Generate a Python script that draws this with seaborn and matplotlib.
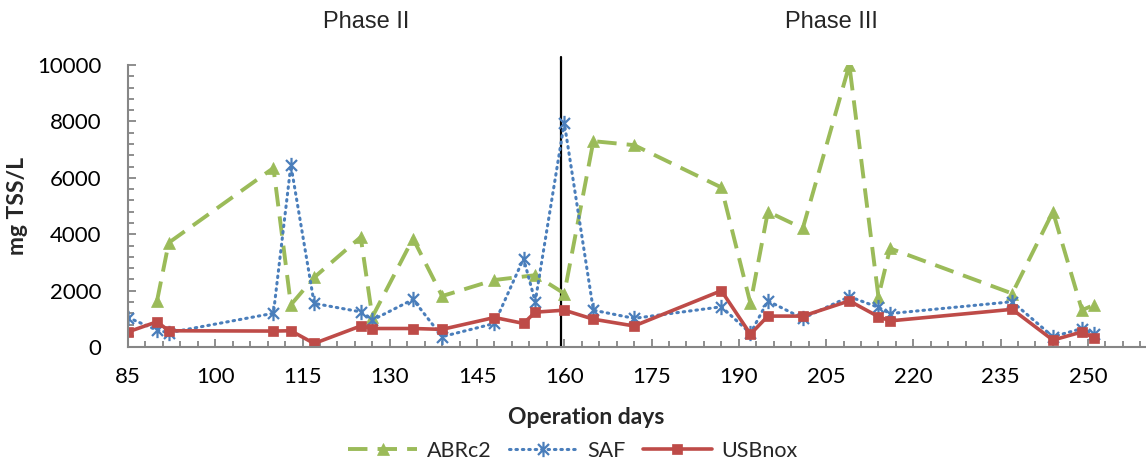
import numpy as np
import pandas as pd
import matplotlib
matplotlib.use("Agg")
import matplotlib.pyplot as plt
from matplotlib.path import Path
from matplotlib.ticker import FixedLocator
import seaborn as sns

# Sampling days and suspended solids per reactor
days = [85, 90, 92, 110, 113, 117, 125, 127, 134, 139, 148, 153, 155, 160,
        165, 172, 187, 192, 195, 201, 209, 214, 216, 237, 244, 249, 251]
abrc2 = [np.nan, 1650, 3700, 6350, 1500, 2470, 3900, 1070, 3850, 1810, 2380,
         np.nan, 2550, 1900, 7300, 7160, 5660, 1550, 4800, 4210, 10000, 1790,
         3500, 1900, 4800, 1310, 1490]
saf = [1050, 600, 510, 1200, 6450, 1550, 1250, 960, 1690, 370, 840, 3140,
       1610, 7950, 1310, 1020, 1430, 490, 1640, 1020, 1790, 1410, 1190, 1610,
       370, 660, 460]
usbnox = [540, 900, 580, 570, 580, 130, 750, 660, 660, 630, 1050, 840, 1240,
          1310, 990, 750, 2000, 460, 1100, 1100, 1640, 1080, 930, 1340, 250,
          540, 330]

phase_change_day = 159.5
phase_labels = ["Phase II", "Phase III"]
x_ticks = list(range(85, 251, 15))
y_ticks = list(range(0, 10001, 2000))

sns.set_theme(style="white")
plt.rcParams["font.family"] = ["Lato", "DejaVu Sans"]

fig = plt.figure(figsize=(11.46, 4.61), dpi=100)
ax = fig.add_axes([0.1117, 0.247, 0.8883, 0.612])

# Star marker: an X crossed by a vertical bar
d = 0.72
star = Path([(0, -1), (0, 1), (-d, -d), (d, d), (-d, d), (d, -d)],
            [Path.MOVETO, Path.LINETO, Path.MOVETO, Path.LINETO,
             Path.MOVETO, Path.LINETO])

styles = {
    "ABRc2": dict(color="#9BBB59", marker="^", markersize=8,
                  linestyle=(0, (5, 2.6)), linewidth=2.8,
                  markeredgecolor="#9BBB59", markeredgewidth=0.5),
    "SAF": dict(color="#4A7EBB", marker=star, markersize=11,
                linestyle=(0, (0.5, 1.6)), linewidth=2.2,
                markeredgecolor="#4A7EBB", markeredgewidth=1.6,
                dash_capstyle="round"),
    "USBnox": dict(color="#BE4B48", marker="s", markersize=7.5,
                   linestyle="-", linewidth=2.6,
                   markeredgecolor="#BE4B48", markeredgewidth=0.5),
}
series = {"ABRc2": abrc2, "SAF": saf, "USBnox": usbnox}

for name, vals in series.items():
    df = pd.DataFrame({"day": days, "tss": vals}).dropna()
    sns.lineplot(data=df, x="day", y="tss", ax=ax, label=name,
                 estimator=None, sort=True, **styles[name])

if ax.get_legend() is not None:
    ax.get_legend().remove()

# Boundary between the two operating phases
ax.axvline(phase_change_day, ymin=0, ymax=1.03, color="black",
           linewidth=1.6, clip_on=False, zorder=1)

ax.set_xlim(85, 260)
ax.set_ylim(0, 10000)
ax.xaxis.set_major_locator(FixedLocator(x_ticks))
ax.xaxis.set_minor_locator(FixedLocator(list(range(85, 261, 3))))
ax.yaxis.set_major_locator(FixedLocator(y_ticks))
ax.yaxis.set_minor_locator(FixedLocator(list(range(0, 10001, 400))))

axis_grey = "#868686"
for side in ["top", "right"]:
    ax.spines[side].set_visible(False)
for side in ["left", "bottom"]:
    ax.spines[side].set_color(axis_grey)
    ax.spines[side].set_linewidth(1.5)

ax.tick_params(axis="both", which="major", direction="in", length=6,
               width=1.3, color=axis_grey, labelsize=16, labelcolor="black")
ax.tick_params(axis="both", which="minor", direction="in", length=4,
               width=1.3, color=axis_grey)
ax.tick_params(axis="x", which="both", bottom=True, pad=14)
ax.tick_params(axis="y", which="both", left=True, pad=19)

ax.set_xlabel("Operation days", fontsize=16.5, fontweight="bold")
ax.set_ylabel("mg TSS/L", fontsize=16.5, fontweight="bold")
ax.xaxis.set_label_coords(0.45, -0.213)
ax.yaxis.set_label_coords(-0.098, 0.5)

for txt, xpx in zip(phase_labels, [366, 831]):
    fig.text(xpx / 1146, 1 - 21.5 / 461, txt, ha="center", va="center",
             fontsize=17, family=["Liberation Sans", "DejaVu Sans"])

handles = [l for l in ax.get_lines() if l.get_label() in series]
fig.legend(handles=handles, labels=list(series.keys()), loc="center",
           bbox_to_anchor=(573 / 1146, 1 - 451 / 461), ncol=3, frameon=False,
           fontsize=15.5, handlelength=3.2, numpoints=1, columnspacing=0.8,
           handletextpad=0.45)

fig.savefig("out.png", dpi=100)
